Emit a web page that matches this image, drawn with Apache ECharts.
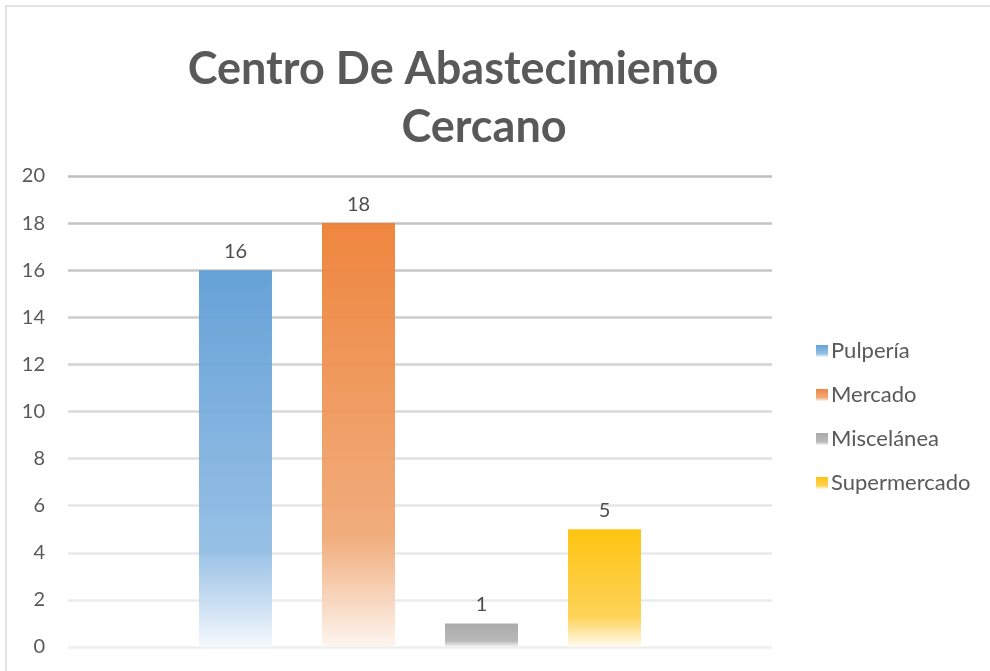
<!DOCTYPE html>
<html>
<head>
<meta charset="utf-8">
<script src="https://cdn.jsdelivr.net/npm/echarts@6/dist/echarts.min.js"></script>
<style>
html,body{margin:0;padding:0;background:#fff;}
#c{width:990px;height:671px;}
</style>
</head>
<body>
<div id="c"></div>
<script>
const titleLines = ['Centro De Abastecimiento', 'Cercano'];
const categories = [''];
const seriesNames = ['Pulpería', 'Mercado', 'Miscelánea', 'Supermercado'];
const seriesValues = [16, 18, 1, 5];
const yTicks = [0, 2, 4, 6, 8, 10, 12, 14, 16, 18, 20];

const gradStops = [
  ['#5b9bd5', '#8fbbe3', '#f4f8fc'],
  ['#ed7d31', '#f0a773', '#fdf5ef'],
  ['#a5a5a5', '#b3b3b3', '#f6f6f6'],
  ['#ffc000', '#fdcf4a', '#fffaf0']
];
const gridColors = ['#eeeeee','#ebebeb','#e9e9e9','#e6e6e6','#e0e0e0','#d9d9d9','#d3d3d3','#cdcdcd','#c7c7c7','#c3c3c3','#bfbfbf'];

function grad(c) {
  return new echarts.graphic.LinearGradient(0, 0, 0, 1, [
    {offset: 0, color: c[0]},
    {offset: 0.74, color: c[1]},
    {offset: 1, color: c[2]}
  ]);
}

const chart = echarts.init(document.getElementById('c'), null, {renderer: 'canvas'});
const font = 'Lato, "Open Sans", sans-serif';

chart.setOption({
  animation: false,
  backgroundColor: '#fff',
  graphic: [{
    type: 'rect',
    shape: {x: 6, y: 6, width: 1000, height: 700},
    style: {fill: 'none', stroke: '#d9d9d9', lineWidth: 1.5},
    silent: true
  }],
  title: [
    {text: titleLines[0], left: 453, top: 47, textAlign: 'center', padding: 0,
     textStyle: {fontFamily: font, fontWeight: 'bold', fontSize: 45, color: '#595959'}},
    {text: titleLines[1], left: 484, top: 105, textAlign: 'center', padding: 0,
     textStyle: {fontFamily: font, fontWeight: 'bold', fontSize: 45, color: '#595959'}}
  ],
  legend: {
    orient: 'vertical',
    left: 811,
    top: 335,
    itemWidth: 12,
    itemHeight: 12,
    itemGap: 22,
    icon: 'rect',
    data: seriesNames,
    textStyle: {fontFamily: font, fontSize: 22, color: '#595959', lineHeight: 22, padding: [0, 0, 0, -2]}
  },
  grid: {left: 68, right: 218, top: 176, bottom: 24, containLabel: false},
  xAxis: {
    type: 'category',
    data: categories,
    axisLine: {show: false},
    axisTick: {show: false},
    axisLabel: {show: false}
  },
  yAxis: {
    type: 'value',
    min: yTicks[0],
    max: yTicks[yTicks.length - 1],
    interval: 2,
    axisLine: {show: false},
    axisTick: {show: false},
    axisLabel: {fontFamily: font, fontSize: 20, color: '#595959', margin: 23},
    splitLine: {lineStyle: {color: gridColors, width: 2.5}}
  },
  series: seriesNames.map((n, i) => ({
    name: n,
    type: 'bar',
    data: [seriesValues[i]],
    barWidth: 73,
    barGap: '68.5%',
    itemStyle: {color: grad(gradStops[i]), opacity: 0.93},
    label: {show: true, position: 'top', distance: 9, fontFamily: font, fontSize: 20, color: '#404040'}
  }))
});
</script>
</body>
</html>
